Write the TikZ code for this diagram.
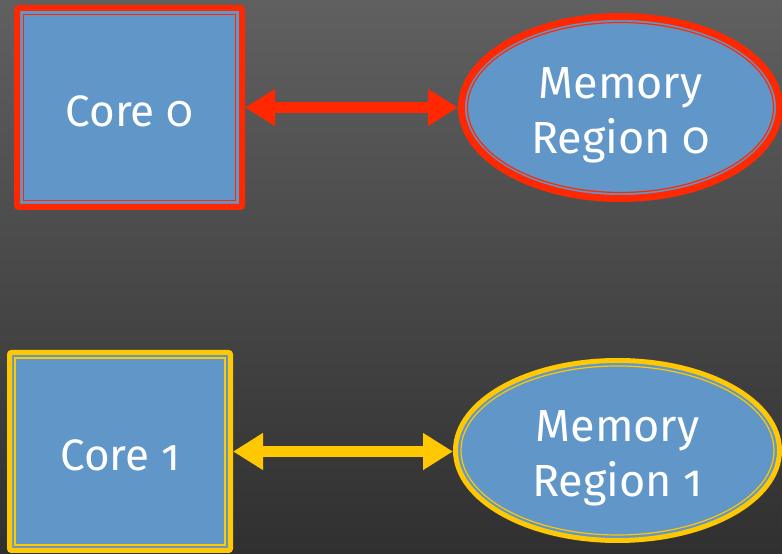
\documentclass[tikz,border=0pt]{standalone}
\usepackage{fontspec}
\setmainfont[Numbers=OldStyle]{Fira Sans}
\usetikzlibrary{shapes.geometric,arrows.meta}
\definecolor{boxblue}{RGB}{96,150,200}
\definecolor{hotred}{RGB}{255,40,0}
\definecolor{gold}{RGB}{255,200,0}
\definecolor{bgtop}{RGB}{96,96,96}
\definecolor{bgbot}{RGB}{48,48,48}
\tikzset{
  corebox/.style={rectangle, fill=boxblue, inner sep=0pt, rounded corners=2pt,
    text=white, font=\fontsize{44}{55}\selectfont, align=center, text height=38pt, text depth=0pt},
  memell/.style={ellipse, fill=boxblue, inner sep=0pt,
    text=white, font=\fontsize{45}{55}\selectfont, align=center, text height=102pt},
  innerline/.style={line width=1.2pt},
  link/.style={line width=11pt, {Triangle[length=30pt,width=35pt]}-{Triangle[length=30pt,width=35pt]}}
}
\begin{document}
\begin{tikzpicture}[x=1pt,y=1pt]
\shade[top color=bgtop, bottom color=bgbot] (0,0) rectangle (782,554);
\useasboundingbox (0,0) rectangle (782,554);
% Core 0
\node[corebox, draw=hotred, line width=6pt, minimum width=225pt, minimum height=199pt] (c0) at (129.5,446.5) {Core 0};
\node[rectangle, draw=hotred, innerline, minimum width=212pt, minimum height=186pt] (c0i) at (c0.center) {};
% Memory 0
\node[memell, draw=hotred, line width=7pt, minimum width=318pt, minimum height=182pt] (m0) at (620.5,446.5) {Memory\\Region 0};
\node[ellipse, draw=hotred, innerline, inner sep=0pt, minimum width=306pt, minimum height=170pt] (m0i) at (m0.center) {};
% Core 1
\node[corebox, draw=gold, line width=5pt, minimum width=221pt, minimum height=198pt] (c1) at (120,102.5) {Core 1};
\node[rectangle, draw=gold, innerline, minimum width=210pt, minimum height=187pt] (c1i) at (c1.center) {};
% Memory 1
\node[memell, draw=gold, line width=5pt, minimum width=324pt, minimum height=180pt] (m1) at (617.5,103.5) {Memory\\Region 1};
\node[ellipse, draw=gold, innerline, inner sep=0pt, minimum width=313pt, minimum height=169pt] (m1i) at (m1.center) {};
% arrows
\draw[link, hotred] (c0.east) -- (m0.west);
\draw[link, gold] (c1.east) -- (c1.east -| m1.west);
\end{tikzpicture}
\end{document}
